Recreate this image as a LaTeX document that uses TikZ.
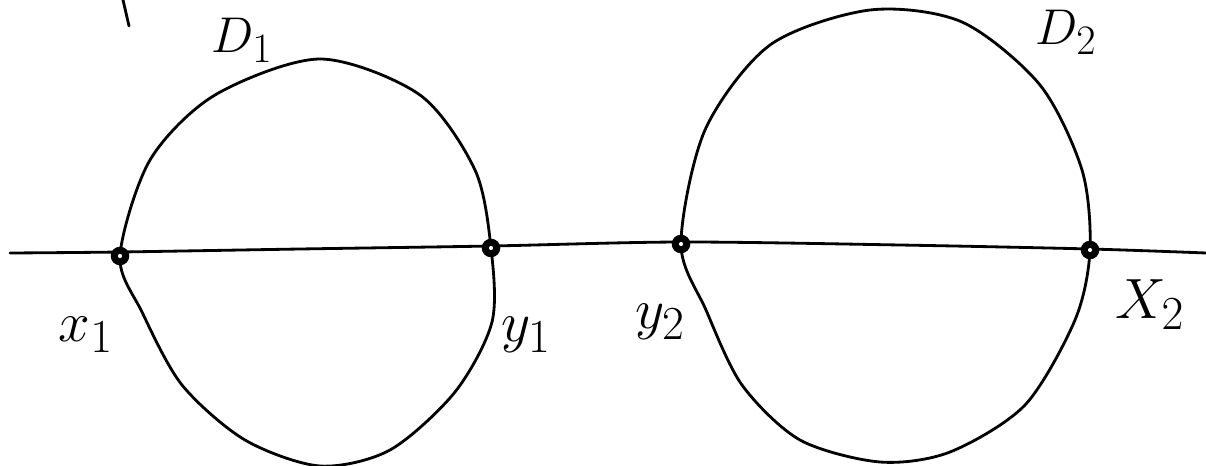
\documentclass[tikz,border=0pt]{standalone}
\usepackage{graphicx}
\begin{document}
\begin{tikzpicture}[x=0.02cm,y=-0.02cm,
  stroke/.style={line width=1.6pt, line cap=round, line join=round},
  pnt/.style={circle, draw, fill=white, line width=4pt, inner sep=0pt, minimum size=6.5pt},
  lab/.style={font=\Huge, inner sep=0pt}]
\useasboundingbox (0,0) rectangle (1206,466);
% points on the line
\coordinate (x1) at (120,256);
\coordinate (y1) at (491,248);
\coordinate (y2) at (681,244);
\coordinate (x2) at (1090,250);
\coordinate (L) at (10,253);
\coordinate (R) at (1206,253);
% horizontal line
\draw[stroke] plot[smooth] coordinates {(L) (120,252) (300,249) (491,246) (681,242) (900,245) (1090,249) (R)};
% disc D1
\draw[stroke] plot[smooth cycle] coordinates {(x1) (150,160) (215,95) (320,59) (420,95) (475,170) (y1) (492,322) (455,392) (390,450) (320,466) (245,440) (182,385) (142,312)};
% disc D2
\draw[stroke] plot[smooth cycle] coordinates {(y2) (705,130) (770,45) (870,10) (962,22) (1040,85) (1082,170) (x2) (1075,320) (1025,405) (950,452) (880,462) (800,440) (742,385) (706,310)};
% stray stroke
\draw[stroke] (123,0) -- (129,26);
% dots
\node[pnt] (p1) at (x1) {};
\node[pnt] (p2) at (y1) {};
\node[pnt] (p3) at (y2) {};
\node[pnt] (p4) at (x2) {};
% labels
\node[lab] (lx1) at (86,335) {\scalebox{1.3}{$x_1$}};
\node[lab] (ly1) at (526,335) {\scalebox{1.3}{$y_1$}};
\node[lab] (ly2) at (660,322) {\scalebox{1.3}{$y_2$}};
\node[lab] (lx2) at (1150,305) {\scalebox{1.3}{$X_2$}};
\node[lab] (ld1) at (242,40) {\scalebox{1.15}{$D_1$}};
\node[lab] (ld2) at (1066,32) {\scalebox{1.15}{$D_2$}};
\end{tikzpicture}
\end{document}
